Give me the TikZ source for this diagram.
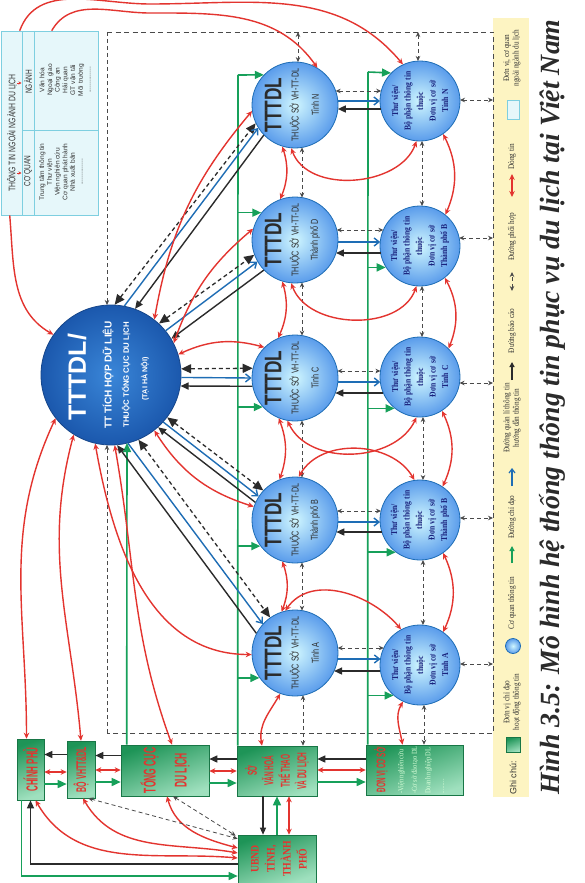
\documentclass[tikz,border=0pt]{standalone}
\usepackage{graphicx}
\usepackage{fontspec}
\setmainfont{Liberation Serif}
\setsansfont{Liberation Sans}
\newfontfamily\cond[FakeStretch=0.72]{Liberation Sans}
\newfontfamily\condx[FakeStretch=0.5]{Liberation Sans}
\newfontfamily\condser[FakeStretch=0.85]{Liberation Serif}
\usetikzlibrary{arrows.meta,calc,shapes.geometric}
\definecolor{rd}{HTML}{E3342F}
\definecolor{dg}{HTML}{4A4A4A}
\definecolor{bk}{HTML}{2B2B2B}
\definecolor{bl}{HTML}{1E6DB5}
\definecolor{gr}{HTML}{17A05A}
\definecolor{navy}{HTML}{1A237E}
\definecolor{infoF}{HTML}{E6F7FA}
\definecolor{infoE}{HTML}{7ECFE0}
\definecolor{legy}{HTML}{FDF4C2}
\definecolor{boxD}{HTML}{1E9457}
\definecolor{boxL}{HTML}{9FE0BE}
\definecolor{tx}{HTML}{333333}
\definecolor{bigI}{HTML}{3A86D8}
\definecolor{bigO}{HTML}{1B58AD}
\definecolor{cirI}{HTML}{CFF6FF}
\definecolor{cirO}{HTML}{5A9CEB}
\newcommand\hconn[5]{\draw[#1] ($(#2)+({sqrt(1849-(#4)*(#4))},#4)$) -- ($(#3)+({-sqrt(1600-(#5)*(#5))},#5)$);}
\begin{document}
\begin{tikzpicture}[x=1pt,y=1pt,
  rot/.style={rotate=90, inner sep=0pt},
  redarr/.style={draw=rd, line width=1.4pt, {Stealth[length=6pt,width=5.5pt]}-{Stealth[length=6pt,width=5.5pt]}},
  redone/.style={draw=rd, line width=1.4pt, -{Stealth[length=6pt,width=5.5pt]}},
  dsh/.style={draw=dg, line width=0.8pt, dash pattern=on 4pt off 3pt, {Stealth[length=5pt,width=4.5pt]}-{Stealth[length=5pt,width=4.5pt]}},
  dshone/.style={draw=dg, line width=0.8pt, dash pattern=on 4pt off 3pt, -{Stealth[length=5pt,width=4.5pt]}},
  framel/.style={draw=dg, line width=0.8pt, dash pattern=on 5pt off 3.5pt},
  bigdsh/.style={draw=bk, line width=1.3pt, dash pattern=on 4pt off 3pt, {Triangle[length=10pt,width=9pt]}-{Triangle[length=10pt,width=9pt]}},
  blu/.style={draw=bl, line width=1.4pt, -{Straight Barb[length=5pt,width=8pt]}},
  blk/.style={draw=bk, line width=1.4pt, -{Triangle[length=8pt,width=7pt]}},
  blkl/.style={draw=bk, line width=1.4pt, {Triangle[length=8pt,width=7pt]}-},
  grn/.style={draw=gr, line width=1.6pt, -{Triangle[length=9pt,width=8pt]}},
  grnl/.style={draw=gr, line width=1.6pt},
  bigc/.style={circle, minimum size=140pt, inner sep=0pt, draw=bigO!80!black, line width=0.8pt, inner color=bigI, outer color=bigO},
  midc/.style={circle, minimum size=86pt, inner sep=0pt, draw=bl, line width=0.8pt, inner color=cirI, outer color=cirO},
  rtc/.style={circle, minimum size=80pt, inner sep=0pt, draw=bl, line width=0.8pt, inner color=cirI, outer color=cirO},
  gbox/.style={draw=boxD!80!black, line width=0.6pt, inner sep=0pt, top color=boxD, bottom color=boxL, shading angle=20},
  btxt/.style={rot, text=rd, font=\condx\bfseries\fontsize{14}{16}\selectfont, align=center},
  mtt/.style={rot, text=bk, font=\cond\bfseries\fontsize{24}{24}\selectfont},
  mts/.style={rot, text=bk, font=\cond\fontsize{10}{11}\selectfont},
  rtxt/.style={rot, text=navy, align=center, font=\condser\bfseries\fontsize{9}{12.5}\selectfont},
  legt/.style={rot, text=tx, align=center, font=\condser\fontsize{8.5}{9.5}\selectfont},
  inft/.style={rot, text=tx, align=center, font=\sffamily\fontsize{6.6}{7.7}\selectfont}
]
\useasboundingbox (0,0) rectangle (584,-883);
\fill[white] (0,0) rectangle (584,-883);
% legend band
\fill[legy] (493,-18) rectangle (529,-797);
% info box
\node[draw=infoE, fill=infoF, line width=0.6pt, minimum width=97pt, minimum height=184pt, inner sep=0pt] (info) at (49.5,-123) {};
\draw[infoE, line width=0.5pt] (22,-31) -- (22,-215) (34,-31) -- (34,-215) (22,-130) -- (98,-130);
\node[rot, text=tx, font=\cond\fontsize{9.5}{9.5}\selectfont] (infoh) at (12,-133) {THÔNG TIN NGOÀI NGÀNH DU LỊCH};
\node[rot, text=tx, font=\cond\fontsize{9}{9}\selectfont] (infon) at (28,-82) {NGÀNH};
\node[rot, text=tx, font=\cond\fontsize{9}{9}\selectfont] (infoc) at (28,-171) {CƠ QUAN};
\draw[draw=rd, line width=0.8pt, -{Stealth[length=3pt,width=3pt]}] (17,-83) -- (21.5,-83);
\draw[draw=rd, line width=0.8pt, -{Stealth[length=3pt,width=3pt]}] (17,-173) -- (21.5,-173);
\node[inft] (infonl) at (65,-80) {Văn hóa\\Ngoại giao\\Công an\\Hải quan\\GT vận tải\\Môi trường\\..............};
\node[inft] (infocl) at (61,-172) {Trung tâm thông tin\\Thư viện\\Viện nghiên cứu\\Cơ quan phát hành\\Nhà xuất bản\\..............};

% circles
\node[bigc] (big) at (111,-375) {};
\node[rot, text=white, font=\sffamily\bfseries\fontsize{25}{25}\selectfont] (bigt1) at (77,-377) {TTTDL/};
\node[rot, text=white, font=\sffamily\bfseries\fontsize{10}{11}\selectfont] (bigt2) at (108,-375) {TT TÍCH HỢP DỮ LIỆU};
\node[rot, text=white, font=\sffamily\bfseries\fontsize{7.8}{9}\selectfont] (bigt3) at (126,-375) {THUỘC TỔNG CỤC DU LỊCH};
\node[rot, text=white, font=\sffamily\bfseries\fontsize{7.2}{9}\selectfont] (bigt4) at (145,-379) {(TẠI HÀ NỘI)};

\foreach \n/\y/\lab in {N/105/Tỉnh N, D/240/Thành phố D, C/378/Tỉnh C, B/520/Thành phố B, A/653/Tỉnh A}{
  \node[midc] (m\n) at (295,-\y) {};
  \node[mtt] (m\n a) at (273,-\y) {TTTDL};
  \node[mts] (m\n b) at (295,-\y) {THUỘC SỞ VH-TT-DL};
  \node[mts] (m\n c) at (315,-\y) {\lab};
}
\foreach \n/\y/\lab in {N/101/Tỉnh N, D/246/Thành phố B, C/377/Tỉnh C, B/520/Thành phố B, A/665/Tỉnh A}{
  \node[rtc] (r\n) at (420,-\y) {};
  \node[rtxt] (r\n t) at (420,-\y) {Thư viện/\\Bộ phận thông tin\\thuộc\\Đơn vị cơ sở\\\lab};
}

% bottom boxes
\node[gbox, minimum width=27pt, minimum height=61pt] (cp) at (30.5,-769.5) {};
\node[btxt, font=\condx\bfseries\fontsize{16}{16}\selectfont] (cpt) at (cp) {CHÍNH PHỦ};
\node[gbox, minimum width=28pt, minimum height=57pt] (bo) at (81,-769.5) {};
\node[btxt, font=\condx\bfseries\fontsize{14}{14}\selectfont] (bot) at (bo) {BỘ VHTT\&DL};
\node[gbox, minimum width=88pt, minimum height=51pt] (tc) at (165,-770.5) {};
\node[btxt, font=\condx\bfseries\fontsize{17}{31}\selectfont] (tct) at (tc) {TỔNG CỤC\\DU LỊCH};
\node[gbox, minimum width=80pt, minimum height=50pt] (so) at (277,-771) {};
\node[btxt, font=\condx\bfseries\fontsize{13}{16.5}\selectfont] (sot) at (so) {SỞ\\VĂN HOÁ\\THỂ THAO\\VÀ DU LỊCH};
\node[gbox, minimum width=97pt, minimum height=50pt] (dv) at (414.5,-770) {};
\node[btxt, font=\condx\bfseries\fontsize{12.5}{13}\selectfont] (dvt) at (381,-770) {ĐƠN VỊ CƠ SỞ};
\node[rot, align=left, text=white!85!green, font=\condser\fontsize{7.5}{13.5}\selectfont] (dvl) at (421,-770) {-Viện nghiên cứu\\-Cơ sở đào tạo DL\\Doanh nghiệp DL\\.........};
\node[gbox, minimum width=78pt, minimum height=48pt] (ub) at (277,-859) {};
\node[btxt, font=\condser\bfseries\fontsize{11.5}{16}\selectfont] (ubt) at (279,-859) {UBND\\TỈNH,\\THÀNH\\PHỐ};

% frame
\coordinate (fTL) at (107,-32);
\coordinate (fBL) at (107,-733);
\draw[framel] (fTL) -- (493,-32) -- (493,-733) -- (fBL);
\draw[dshone] (fTL) -- ($(big)+(-4,70)$);
\draw[dshone] (fBL) -- ($(big)+(-4,-70)$);
\coordinate (ft1) at (298,-32);
\coordinate (ft2) at (418,-32);
\draw[dsh] (ft1) -- ($(mN)+(3,42.9)$);
\draw[dsh] (ft2) -- ($(rN)+(-2,40)$);
\foreach \n/\y/\d in {N/100/1, D/238/8, C/383/-6, B/518/2, A/664/1}{
  \coordinate (fr\n) at (493,-\y);
  \draw[dsh] ($(r\n)+({sqrt(1600-\d*\d)},\d)$) -- (fr\n);
}

% green guidance lines
\coordinate (gL) at (238,-75);
\coordinate (gR) at (368,-72);
\draw[grnl] ($(so.north west)+(1,0)$) -- (gL);
\draw[grnl] ($(dv.north west)+(2,0)$) -- (gR);
\draw[grn] (gL) -- (mN.136);
\draw[grn] (gL|-mD.141) -- (mD.141);
\draw[grn] (gL|-mC.222) -- (mC.222);
\draw[grn] (gL|-mB.217) -- (mB.217);
\draw[grn] (gL|-mA.215) -- (mA.215);
\draw[grn] (gR) -- (rN.136);
\draw[grn] (gR|-rD.212) -- (rD.212);
\draw[grn] (gR|-rC.231) -- (rC.231);
\draw[grn] (gR|-rB.233) -- (rB.233);
\draw[grn] (gR|-rA.229) -- (rA.229);
\draw[grn] ($(tc.north west)+(6,0)$) -- ($(big.center)+(16,-68)$);

% middle <-> right rows
\hconn{dsh}{mN}{rN}{14}{10}
\hconn{blu}{mN}{rN}{4}{0}
\hconn{blkl}{mN}{rN}{-4}{-8}
\hconn{dsh}{mD}{rD}{10}{16}
\hconn{blu}{mD}{rD}{-2}{4}
\hconn{blkl}{mD}{rD}{-13}{-7}
\hconn{dsh}{mC}{rC}{7}{6}
\hconn{blu}{mC}{rC}{-4}{-5}
\hconn{blkl}{mC}{rC}{-15}{-16}
\hconn{dsh}{mB}{rB}{9}{9}
\hconn{blu}{mB}{rB}{-2}{-2}
\hconn{blkl}{mB}{rB}{-12}{-12}
\hconn{dsh}{mA}{rA}{5}{17}
\hconn{blu}{mA}{rA}{-6}{6}
\hconn{blkl}{mA}{rA}{-18}{-6}

% vertical dashed
\draw[dsh] ($(mN)+(7,-42.4)$) -- ($(mD)+(7,42.4)$);
\draw[dsh] ($(mD)+(7,-42.4)$) -- ($(mC)+(7,42.4)$);
\draw[dsh] ($(mC)+(7,-42.4)$) -- ($(mB)+(7,42.4)$);
\draw[dsh] ($(mB)+(7,-42.4)$) -- ($(mA)+(7,42.4)$);
\draw[dsh] ($(mA)+(8,-42.2)$) -- ($(so.north)+(26,0)$);
\draw[dsh] ($(rN)+(2,-40)$) -- ($(rD)+(2,40)$);
\draw[dsh] ($(rD)+(2,-40)$) -- ($(rC)+(2,40)$);
\draw[dsh] ($(rC)+(3,-40)$) -- ($(rB)+(3,40)$);
\draw[dsh] ($(rB)+(3,-40)$) -- ($(rA)+(3,40)$);
\draw[dsh] ($(rA)+(4,-39.8)$) -- ($(dv.north)+(9.5,0)$);

% vertical red
\draw[redarr] (mN.-107) to[bend left=20] (mD.110);
\draw[redarr] (mD.-107) to[bend left=20] (mC.113);
\draw[redarr] (mC.-112) to[bend left=20] (mB.111);
\draw[redarr] (mB.-107) to[bend left=20] (mA.108);
\draw[redarr] (rN.-55) to[bend left=25] (rD.51);
\draw[redarr] (rD.-52) to[bend left=25] (rC.45);
\draw[redarr] (rC.-57) to[bend left=25] (rB.56);
\draw[redarr] (rB.-55) to[bend left=25] (rA.55);
% diagonal red middle-right
\draw[redarr] (mN.-95) to[out=-70,in=-110] (rN.-95);
\draw[redarr] (mD.-95) to[out=-70,in=-110] (rD.-95);
\draw[redarr] (mC.-100) to[out=-65,in=-115] (rC.-95);
\draw[redarr] (mB.85) to[out=60,in=120] (rB.98);
\draw[redarr] (mA.103) to[out=55,in=130] (rA.118);

% bundles big <-> middle
\draw[bigdsh] (big.87) -- (mN.205);
\draw[blu] (big.79) -- (mN.212);
\draw[blk] (mN.224) -- (big.70);
\draw[bigdsh] (big.47) -- (mD.200);
\draw[blu] (big.39) -- (mD.210);
\draw[blk] (mD.224) -- (big.31);
\draw[bigdsh] (big.5) -- (mC.167);
\draw[blu] (big.-2) -- (mC.180);
\draw[blk] (mC.191) -- (big.-9);
\draw[bigdsh] (big.-37) -- (mB.137);
\draw[blu] (big.-42) -- (mB.147);
\draw[blk] (mB.156) -- (big.-48);
\draw[bigdsh] (big.-67) -- (mA.125);
\draw[blu] (big.-76) -- (mA.138);
\draw[blk] (mA.153) -- (big.-85);
% red big <-> middle
\draw[redarr] (big.52) to[bend left=15] (mN.188);
\draw[redarr] (big.27) to[bend left=15] (mD.165);
\draw[redarr] (big.17) to[bend left=20] (mC.135);
\draw[redarr] (big.-52) to[bend right=20] (mB.162);
\draw[redarr] (big.-103) to[out=-80,in=180] (mA.182);
% red big -> boxes
\draw[redarr] (big.-142) to[out=-115,in=90] ($(cp.north)+(-4,0)$);
\draw[redarr] (big.-122) to[out=-105,in=95] (bo.north);
\draw[redarr] (big.-87) to[out=-80,in=110] ($(tc.north)+(7,0)$);
% info arrows
\draw[redone] ($(info.north west)+(19,0)$) to[out=70,in=180] (150,-4) to[out=0,in=130] (rN.115);
\draw[redone] ($(info.north west)+(51,0)$) to[out=60,in=180] (150,-13) to[out=0,in=125] (mN.59);
\draw[redone] ($(info.south west)+(9,0)$) to[out=-85,in=150] (big.145);

% red to bottom boxes from column A
\draw[redarr] (mA.-110) to[out=-120,in=100] ($(so.north)+(-15,0)$);
\draw[redarr] (rA.-115) to[out=-120,in=100] ($(dv.north)+(-12,0)$);

% box horizontals
\draw[blk] ($(bo.west)+(0,15)$) -- ($(cp.east|-bo.west)+(0,15)$);
\draw[blk] ($(tc.west)+(0,15)$) -- ($(bo.east|-tc.west)+(0,15)$);
\draw[blk] ($(so.west)+(0,12)$) -- ($(tc.east|-so.west)+(0,12)$);
\draw[blk] ($(dv.west)+(0,11)$) -- ($(so.east|-dv.west)+(0,11)$);
\draw[redarr] ($(cp.east)+(0,-2.5)$) -- ($(bo.west|-cp.east)+(0,-2.5)$);
\draw[redarr] ($(bo.east)+(0,-0.5)$) -- ($(tc.west|-bo.east)+(0,-0.5)$);
\draw[redarr] ($(tc.east)+(0,-0.5)$) -- ($(so.west|-tc.east)+(0,-0.5)$);
\draw[redarr] ($(so.east)+(0,1)$) -- ($(dv.west|-so.east)+(0,1)$);
\draw[grn] ($(cp.east)+(0,-14.5)$) -- ($(bo.west|-cp.east)+(0,-14.5)$);
\draw[grn] ($(bo.east)+(0,-12.5)$) -- ($(tc.west|-bo.east)+(0,-12.5)$);
\draw[grn] ($(tc.east)+(0,-12.5)$) -- ($(so.west|-tc.east)+(0,-12.5)$);
\draw[grn] ($(so.east)+(0,-11)$) -- ($(dv.west|-so.east)+(0,-11)$);
% so <-> ub
\draw[draw=bk, line width=1.1pt, -{Triangle[length=7pt,width=6pt]}] ($(so.south)+(-14,0)$) -- ($(ub.north)+(-14,0)$);
\draw[grn] ($(ub.north)+(0,0)$) -- ($(so.south)+(0,0)$);
\draw[redarr] ($(so.south)+(12,0)$) -- ($(ub.north)+(12,0)$);
% ub <-> cp etc
\draw[blk] ($(ub.west)+(0,-5)$) -| (cp.south);
\draw[grn] ($(cp.south)+(-9,0)$) |- ($(ub.west)+(0,-17)$);
\draw[redarr] ($(cp.south)+(5,0)$) to[out=-60,in=175] ($(ub.west)+(0,1)$);
\draw[redarr] ($(bo.south)+(2,0)$) to[out=-60,in=170] ($(ub.west)+(0,6)$);
\draw[redarr] ($(tc.south)+(2,0)$) to[out=-75,in=165] ($(ub.west)+(0,11)$);
\draw[dsh] ($(bo.south east)+(-7,0)$) -- ($(ub.north west)+(0,-4)$);
\draw[dsh] ($(tc.south)+(8,0)$) -- ($(ub.north west)+(-2,-1)$);

% legend
\node[rot, text=tx, font=\sffamily\fontsize{9}{10}\selectfont] (lg0) at (513,-778) {Ghi chú:};
\node[gbox, minimum width=14pt, minimum height=15pt] (lg1) at (513,-745) {};
\node[legt] (lg1t) at (512,-702) {Đơn vị chỉ đạo\\hoạt động thông tin};
\node[rtc, minimum size=15pt] (lg2) at (513,-646) {};
\node[legt] (lg2t) at (512,-603) {Cơ quan thông tin};
\coordinate (lg3a) at (512,-563);
\coordinate (lg3b) at (512,-546);
\draw[draw=gr, line width=1.2pt, -{Triangle[length=5pt,width=5pt]}] (lg3a) -- (lg3b);
\node[legt] (lg3t) at (512,-517) {Đường chỉ đạo};
\coordinate (lg4a) at (512,-486);
\coordinate (lg4b) at (512,-468);
\draw[draw=bl, line width=1.2pt, -{Straight Barb[length=4pt,width=6pt]}] (lg4a) -- (lg4b);
\node[legt] (lg4t) at (512,-418) {Đường quản lí thông tin\\hướng dẫn thông tin};
\coordinate (lg5a) at (512,-380);
\coordinate (lg5b) at (512,-362);
\draw[draw=bk, line width=1.2pt, -{Triangle[length=5pt,width=5pt]}] (lg5a) -- (lg5b);
\node[legt] (lg5t) at (512,-331) {Đường báo cáo};
\coordinate (lg6a) at (512,-291);
\coordinate (lg6b) at (512,-272);
\draw[dsh] (lg6a) -- (lg6b);
\node[legt] (lg6t) at (512,-237) {Đường phối hợp};
\coordinate (lg7a) at (512,-197);
\coordinate (lg7b) at (512,-174);
\draw[redarr, line width=1.2pt] (lg7a) -- (lg7b);
\node[legt] (lg7t) at (512,-157) {Dòng tin};
\node[draw=infoE, fill=infoF, minimum width=12pt, minimum height=19pt, inner sep=0pt] (lg8) at (513,-110) {};
\node[legt] (lg8t) at (512,-58) {Đơn vị, cơ quan\\ngoài ngành du lịch};

% caption
\node[rot, text=bk, font=\bfseries\itshape\fontsize{24}{24}\selectfont] (cap) at (552,-407) {\resizebox{775pt}{!}{Hình 3.5: Mô hình hệ thống thông tin phục vụ du lịch tại Việt Nam}};
\end{tikzpicture}
\end{document}
